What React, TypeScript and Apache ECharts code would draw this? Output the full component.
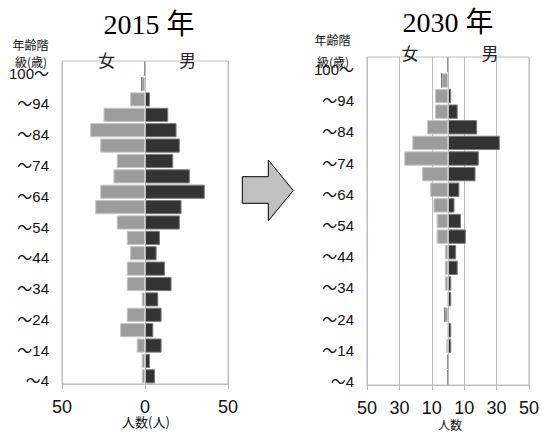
import React, { useEffect, useRef } from "react";
import * as echarts from "echarts";

// age groups from bottom (0-4) to top (100+)
const ageGroups = [
  "0-4", "5-9", "10-14", "15-19", "20-24", "25-29", "30-34", "35-39", "40-44", "45-49",
  "50-54", "55-59", "60-64", "65-69", "70-74", "75-79", "80-84", "85-89", "90-94", "95-99", "100+",
];
const yTickLabels = [
  "～4", "", "～14", "", "～24", "", "～34", "", "～44", "", "～54", "", "～64", "", "～74", "",
  "～84", "", "～94", "", "100～",
];

const female2015 = [2, 2, 5, 15, 11, 2, 11, 11, 9, 11, 17, 30, 27, 19, 17, 27, 33, 25, 9, 2, 0];
const male2015 = [6, 3, 10, 5, 10, 8, 16, 12, 7, 9, 21, 22, 36, 27, 17, 21, 19, 14, 3, 0, 0];

const female2030 = [0, 0, 1, 0, 2, 0, 2, 2, 2, 7, 7, 9, 11, 16, 27, 22, 13, 8, 8, 4, 0];
const male2030 = [0, 0, 2, 2, 0, 2, 2, 6, 5, 11, 8, 4, 7, 17, 19, 32, 18, 6, 2, 0, 0];

const titles = ["2015 年", "2030 年"];
const sexLabels = ["女", "男"];
const ageAxisTitle = ["年齢階", "級(歳)"];
const countAxisNames = ["人数(人)", "人数"];

const LINE = "#bdbdbd";
const SANS = "'Liberation Sans', 'Noto Sans CJK JP', sans-serif";
const NARROW = "'Liberation Sans Narrow', 'Liberation Sans', sans-serif";
const SERIF = "'Liberation Serif', 'Noto Sans CJK JP', serif";
const CJK = "'Noto Sans CJK JP', sans-serif";

export default function App() {
  const ref = useRef<HTMLDivElement>(null);

  useEffect(() => {
    if (!ref.current) return;
    const chart = echarts.init(ref.current, null, { renderer: "svg" });
    const neg = (a: number[]) => a.map((v) => -v);

    const xAxisBase = (gridIndex: number, interval: number) => ({
      gridIndex,
      type: "value",
      min: -50,
      max: 50,
      interval,
      axisLine: { show: true, lineStyle: { color: LINE, width: 1 } },
      axisTick: { show: true, length: 5, lineStyle: { color: LINE } },
      splitLine: { show: true, lineStyle: { color: LINE, width: 1 } },
      axisLabel: {
        formatter: (v: number) => String(Math.abs(v)),
        fontFamily: NARROW,
        fontSize: 18,
        color: "#111",
        margin: 14,
      },
    });

    const yAxisBase = (gridIndex: number) => ({
      gridIndex,
      type: "category",
      data: ageGroups,
      axisLine: { show: false, onZero: false },
      axisTick: { show: false },
      splitLine: { show: false },
      axisLabel: {
        interval: 0,
        formatter: (_v: string, i: number) => yTickLabels[i],
        fontFamily: SANS,
        fontSize: 15,
        color: "#111",
        margin: 13,
        verticalAlign: "top",
        lineHeight: 9,
      },
    });

    const femaleStyle = { color: "#9c9c9c", borderColor: "#c8c8c8", borderWidth: 1 };
    const maleStyle = { color: "#333333", borderColor: "#7a7a7a", borderWidth: 1 };
    const centerLine = {
      silent: true,
      symbol: "none",
      label: { show: false },
      lineStyle: { color: LINE, type: "solid", width: 1 },
      data: [{ xAxis: 0 }],
    };

    const text = (x: number, y: number, t: string, fontSize: number, fontFamily: string, fill = "#111") => ({
      type: "text",
      x,
      y,
      style: { text: t, fontSize, fontFamily, fill, align: "center", verticalAlign: "middle" },
      z: 10,
    });

    chart.setOption({
      animation: false,
      backgroundColor: "#fff",
      grid: [
        { left: 62, top: 61, width: 166, height: 323, show: true, borderColor: LINE, borderWidth: 1 },
        { left: 367, top: 57, width: 165, height: 328, show: true, borderColor: LINE, borderWidth: 1 },
      ],
      xAxis: [xAxisBase(0, 50), xAxisBase(1, 20)],
      yAxis: [yAxisBase(0), yAxisBase(1)],
      series: [
        {
          type: "bar", xAxisIndex: 0, yAxisIndex: 0, stack: "p2015", data: neg(female2015),
          barCategoryGap: "8%", itemStyle: femaleStyle, markLine: centerLine,
        },
        { type: "bar", xAxisIndex: 0, yAxisIndex: 0, stack: "p2015", data: male2015, barCategoryGap: "8%", itemStyle: maleStyle },
        {
          type: "bar", xAxisIndex: 1, yAxisIndex: 1, stack: "p2030", data: neg(female2030),
          barCategoryGap: "8%", itemStyle: femaleStyle, markLine: centerLine,
        },
        { type: "bar", xAxisIndex: 1, yAxisIndex: 1, stack: "p2030", data: male2030, barCategoryGap: "8%", itemStyle: maleStyle },
      ],
      graphic: [
        text(149, 24, titles[0], 28, SERIF, "#000"),
        text(448, 22.5, titles[1], 28, SERIF, "#000"),
        text(106.5, 61, sexLabels[0], 17, SERIF, "#222"),
        text(187.5, 61, sexLabels[1], 17, SERIF, "#222"),
        text(410, 54, sexLabels[0], 17, SERIF, "#222"),
        text(490, 54, sexLabels[1], 17, SERIF, "#222"),
        text(30.5, 44, ageAxisTitle[0], 12, CJK),
        text(31, 61, ageAxisTitle[1], 12, CJK),
        text(332.5, 39, ageAxisTitle[0], 12, CJK),
        text(333, 61, ageAxisTitle[1], 12, CJK),
        text(146, 421, countAxisNames[0], 13, CJK),
        text(450, 424, countAxisNames[1], 12, CJK),
        {
          type: "polygon",
          shape: {
            points: [
              [242.3, 176.7], [268.3, 176.7], [268.3, 160], [293.3, 190.5],
              [268.3, 220.7], [268.3, 203.3], [242.3, 203.3],
            ],
          },
          style: { fill: "#c0c0c0", stroke: "#000", lineWidth: 1 },
          z: 10,
        },
      ],
    });

    return () => chart.dispose();
  }, []);

  return (
    <div
      ref={ref}
      style={{ position: "absolute", left: 0, top: 0, width: 542, height: 432, background: "#fff" }}
    />
  );
}
